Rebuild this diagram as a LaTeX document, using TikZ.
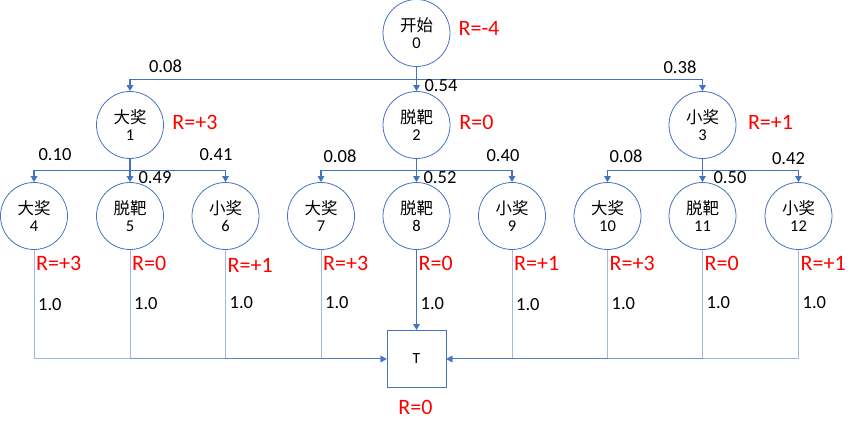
\documentclass[tikz,border=0pt]{standalone}
\usepackage{fontspec}
\setmainfont{Carlito}
\newfontfamily\cjk{Noto Sans CJK SC}
\usetikzlibrary{arrows.meta}
\definecolor{cblue}{HTML}{4472C4}
\definecolor{cred}{HTML}{FF0000}
\tikzset{
  state/.style={circle, draw=cblue, line width=0.8pt, minimum size=67pt, inner sep=0pt, align=center, font=\fontsize{16.5}{17.5}\selectfont},
  termbox/.style={rectangle, draw=cblue, line width=0.9pt, minimum width=59pt, minimum height=57pt, inner sep=0pt, font=\fontsize{15.5}{17}\selectfont},
  arr/.style={draw=cblue, line width=1.2pt, -{Triangle[length=6pt,width=6.5pt]}},
  fade/.style={draw=cblue, draw opacity=0.5, fill opacity=0.5, line width=1pt, -{Triangle[length=6pt,width=6.5pt]}},
  prob/.style={inner sep=0pt, font=\fontsize{18.5}{20}\selectfont},
  rew/.style={inner sep=0pt, text=cred, font=\fontsize{22}{24}\selectfont},
}
\begin{document}
\begin{tikzpicture}[x=1pt,y=-1pt]
\useasboundingbox (0,0) rectangle (865,435);
% states
\node[state] (n0) at (416.5,33) {{\cjk 开始}\\0};
\node[state] (n1) at (130,125) {{\cjk 大奖}\\1};
\node[state] (n2) at (416.5,125) {{\cjk 脱靶}\\2};
\node[state] (n3) at (702.5,125) {{\cjk 小奖}\\3};
\node[state] (n4) at (34,216) {{\cjk 大奖}\\4};
\node[state] (n5) at (130,216) {{\cjk 脱靶}\\5};
\node[state] (n6) at (225.5,216) {{\cjk 小奖}\\6};
\node[state] (n7) at (321,216) {{\cjk 大奖}\\7};
\node[state] (n8) at (416.5,216) {{\cjk 脱靶}\\8};
\node[state] (n9) at (512,216) {{\cjk 小奖}\\9};
\node[state] (n10) at (607.5,216) {{\cjk 大奖}\\10};
\node[state] (n11) at (702.5,216) {{\cjk 脱靶}\\11};
\node[state] (n12) at (798.5,216) {{\cjk 小奖}\\12};
\node[termbox] (T) at (416.5,359) {T};
% level 0 -> 1
\draw[arr] (n0.south) -- ++(0,13) -| (n1.north);
\draw[arr] (n0.south) -- (n2.north);
\draw[arr] (n0.south) -- ++(0,13) -| (n3.north);
% level 1 -> 2
\draw[arr] (n1.south) -- ++(0,12) -| (n4.north);
\draw[arr] (n1.south) -- (n5.north);
\draw[arr] (n1.south) -- ++(0,12) -| (n6.north);
\draw[arr] (n2.south) -- ++(0,12) -| (n7.north);
\draw[arr] (n2.south) -- (n8.north);
\draw[arr] (n2.south) -- ++(0,12) -| (n9.north);
\draw[arr] (n3.south) -- ++(0,12) -| (n10.north);
\draw[arr] (n3.south) -- (n11.north);
\draw[arr] (n3.south) -- ++(0,12) -| (n12.north);
% level 2 -> T
\draw[fade] (n4.south) |- (T.west);
\draw[fade] (n5.south) |- (T.west);
\draw[fade] (n6.south) |- (T.west);
\draw[fade] (n7.south) |- (T.west);
\draw[arr] (n8.south) -- (T.north);
\draw[fade] (n9.south) |- (T.east);
\draw[fade] (n10.south) |- (T.east);
\draw[fade] (n11.south) |- (T.east);
\draw[fade] (n12.south) |- (T.east);
% probabilities
\node[prob] (p1) at (165.5,66.5) {0.08};
\node[prob] (p2) at (441,86) {0.54};
\node[prob] (p3) at (680,67.5) {0.38};
\node[prob] (p4) at (55,155) {0.10};
\node[prob] (p5) at (155,178) {0.49};
\node[prob] (p6) at (216,155) {0.41};
\node[prob] (p7) at (340,156) {0.08};
\node[prob] (p8) at (440,178) {0.52};
\node[prob] (p9) at (503,156) {0.40};
\node[prob] (p10) at (626,156) {0.08};
\node[prob] (p11) at (730,178) {0.50};
\node[prob] (p12) at (788.5,159) {0.42};
\foreach \n/\y in {4/305,5/304,6/303,7/303,8/304,9/305,10/304,11/303,12/303}{
  \node[prob, anchor=west] (q\n) at ([xshift=4pt]n\n.center |- 0,\y) {1.0};
}
% rewards
\node[rew] (r0) at (479,28) {R=-4};
\node[rew] (r1) at (195,122.5) {R=+3};
\node[rew] (r2) at (476.5,122.5) {R=0};
\node[rew] (r3) at (770.5,122.5) {R=+1};
\foreach \n/\t/\y in {4/+3/263.5,5/0/263.5,6/+1/265,7/+3/263.5,8/0/263.5,9/+1/263.5,10/+3/263.5,11/0/263.5,12/+1/263.5}{
  \node[rew, anchor=west] (s\n) at ([xshift=2pt]n\n.center |- 0,\y) {R=\t};
}
\node[rew] (rT) at (415.5,407) {R=0};
\end{tikzpicture}
\end{document}
